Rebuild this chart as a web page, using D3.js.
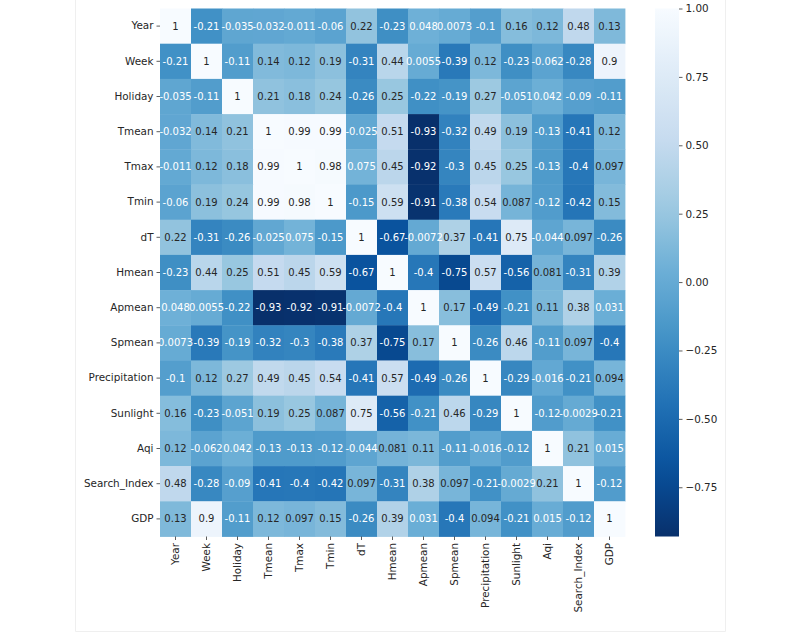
<!DOCTYPE html>
<html>
<head>
<meta charset="utf-8">
<script src="https://cdn.jsdelivr.net/npm/d3@7"></script>
<style>
  html, body { margin: 0; padding: 0; background: #ffffff; }
  svg { display: block; }
  text { font-family: "DejaVu Sans", sans-serif; }
</style>
</head>
<body>
<svg id="chart" width="800" height="633"></svg>
<script>
// ---------- DATA ----------
const categories = ["Year","Week","Holiday","Tmean","Tmax","Tmin","dT","Hmean","Apmean","Spmean","Precipitation","Sunlight","Aqi","Search_Index","GDP"];

const rowYear          = [1, -0.21, -0.035, -0.032, -0.011, -0.06, 0.22, -0.23, 0.048, 0.0073, -0.1, 0.16, 0.12, 0.48, 0.13];
const rowWeek          = [-0.21, 1, -0.11, 0.14, 0.12, 0.19, -0.31, 0.44, 0.0055, -0.39, 0.12, -0.23, -0.062, -0.28, 0.9];
const rowHoliday       = [-0.035, -0.11, 1, 0.21, 0.18, 0.24, -0.26, 0.25, -0.22, -0.19, 0.27, -0.051, 0.042, -0.09, -0.11];
const rowTmean         = [-0.032, 0.14, 0.21, 1, 0.99, 0.99, -0.025, 0.51, -0.93, -0.32, 0.49, 0.19, -0.13, -0.41, 0.12];
const rowTmax          = [-0.011, 0.12, 0.18, 0.99, 1, 0.98, 0.075, 0.45, -0.92, -0.3, 0.45, 0.25, -0.13, -0.4, 0.097];
const rowTmin          = [-0.06, 0.19, 0.24, 0.99, 0.98, 1, -0.15, 0.59, -0.91, -0.38, 0.54, 0.087, -0.12, -0.42, 0.15];
const rowdT            = [0.22, -0.31, -0.26, -0.025, 0.075, -0.15, 1, -0.67, -0.0072, 0.37, -0.41, 0.75, -0.044, 0.097, -0.26];
const rowHmean         = [-0.23, 0.44, 0.25, 0.51, 0.45, 0.59, -0.67, 1, -0.4, -0.75, 0.57, -0.56, 0.081, -0.31, 0.39];
const rowApmean        = [0.048, 0.0055, -0.22, -0.93, -0.92, -0.91, -0.0072, -0.4, 1, 0.17, -0.49, -0.21, 0.11, 0.38, 0.031];
const rowSpmean        = [0.0073, -0.39, -0.19, -0.32, -0.3, -0.38, 0.37, -0.75, 0.17, 1, -0.26, 0.46, -0.11, 0.097, -0.4];
const rowPrecipitation = [-0.1, 0.12, 0.27, 0.49, 0.45, 0.54, -0.41, 0.57, -0.49, -0.26, 1, -0.29, -0.016, -0.21, 0.094];
const rowSunlight      = [0.16, -0.23, -0.051, 0.19, 0.25, 0.087, 0.75, -0.56, -0.21, 0.46, -0.29, 1, -0.12, -0.0029, -0.21];
const rowAqi           = [0.12, -0.062, 0.042, -0.13, -0.13, -0.12, -0.044, 0.081, 0.11, -0.11, -0.016, -0.12, 1, 0.21, 0.015];
const rowSearchIndex   = [0.48, -0.28, -0.09, -0.41, -0.4, -0.42, 0.097, -0.31, 0.38, 0.097, -0.21, -0.0029, 0.21, 1, -0.12];
const rowGDP           = [0.13, 0.9, -0.11, 0.12, 0.097, 0.15, -0.26, 0.39, 0.031, -0.4, 0.094, -0.21, 0.015, -0.12, 1];

const matrix = [rowYear,rowWeek,rowHoliday,rowTmean,rowTmax,rowTmin,rowdT,rowHmean,rowApmean,rowSpmean,rowPrecipitation,rowSunlight,rowAqi,rowSearchIndex,rowGDP];

const colorbarTicks = [1.00, 0.75, 0.50, 0.25, 0.00, -0.25, -0.50, -0.75];

// ---------- LAYOUT ----------
const svg = d3.select("#chart");
const gLeft = 160, gTop = 8.5, gRight = 625, gBottom = 536.5;
const cbLeft = 655, cbWidth = 24;

// faint frame of the original screenshot
const frame = svg.append("g").attr("stroke", "#efefef").attr("stroke-width", 1).attr("fill", "none");
frame.append("line").attr("x1", 75.5).attr("x2", 75.5).attr("y1", 0).attr("y2", 631.5);
frame.append("line").attr("x1", 725.5).attr("x2", 725.5).attr("y1", 0).attr("y2", 631.5);
frame.append("line").attr("x1", 75.5).attr("x2", 725.5).attr("y1", 631.5).attr("y2", 631.5);

const x = d3.scaleBand().domain(categories).range([gLeft, gRight]);
const y = d3.scaleBand().domain(categories).range([gTop, gBottom]);

const all = matrix.flat();
const vmin = d3.min(all), vmax = d3.max(all);

// matplotlib "Blues_r" (linear segments through the ColorBrewer Blues colors)
const bluesStops = ["#f7fbff","#deebf7","#c6dbef","#9ecae1","#6baed6","#4292c6","#2171b5","#08519c","#08306b"];
const norm = d3.scaleLinear().domain([vmin, vmax]).range([1, 0]).clamp(true);
const blues = d3.scaleLinear().domain(d3.range(9).map(i => i / 8)).range(bluesStops).interpolate(d3.interpolateRgb);
const color = v => blues(norm(v));

function luminance(c) {
  const rgb = d3.rgb(c);
  const lin = u => { u /= 255; return u <= 0.03928 ? u / 12.92 : Math.pow((u + 0.055) / 1.055, 2.4); };
  return 0.2126 * lin(rgb.r) + 0.7152 * lin(rgb.g) + 0.0722 * lin(rgb.b);
}
// light/dark annotation switch point, as seen in the reference (between 0.075 and 0.081)
const lumThreshold = luminance(color(0.078));

function fmt(v) {
  if (v === 1) return "1";
  return d3.format(".2~g")(v).replace("−", "-");
}

const cells = [];
matrix.forEach((row, i) => row.forEach((v, j) => cells.push({ r: categories[i], c: categories[j], v })));

const g = svg.append("g");
g.selectAll("rect.cell").data(cells).join("rect")
  .attr("class", "cell")
  .attr("x", d => x(d.c))
  .attr("y", d => y(d.r))
  .attr("width", x.bandwidth() + 0.4)
  .attr("height", y.bandwidth() + 0.4)
  .attr("fill", d => color(d.v));

g.selectAll("text.annot").data(cells).join("text")
  .attr("class", "annot")
  .attr("x", d => x(d.c) + x.bandwidth() / 2)
  .attr("y", d => y(d.r) + y.bandwidth() / 2)
  .attr("text-anchor", "middle")
  .attr("dominant-baseline", "central")
  .attr("font-size", "10px")
  .attr("fill", d => luminance(color(d.v)) > lumThreshold ? "#262626" : "#ffffff")
  .text(d => fmt(d.v));

// ---------- AXES ----------
const yAxis = d3.axisLeft(y).tickSize(3.5).tickPadding(3);
const yG = svg.append("g").attr("transform", `translate(${gLeft},0)`).call(yAxis);
yG.select(".domain").remove();
yG.selectAll(".tick line").attr("stroke", "#333").attr("stroke-width", 0.8);
yG.selectAll(".tick text").attr("font-size", "10.4px").attr("fill", "#262626")
  .attr("font-family", "DejaVu Sans, sans-serif");

const xAxis = d3.axisBottom(x).tickSize(3.5).tickPadding(3);
const xG = svg.append("g").attr("transform", `translate(0,${gBottom})`).call(xAxis);
xG.select(".domain").remove();
xG.selectAll(".tick line").attr("stroke", "#333").attr("stroke-width", 0.8);
xG.selectAll(".tick text")
  .attr("font-size", "10.4px").attr("fill", "#262626")
  .attr("font-family", "DejaVu Sans, sans-serif")
  .attr("transform", "rotate(-90)")
  .attr("text-anchor", "end")
  .attr("dy", "0.35em")
  .attr("x", -6.5)
  .attr("y", 0);

// ---------- COLORBAR ----------
const cbScale = d3.scaleLinear().domain([vmin, vmax]).range([gBottom, gTop]);
const defs = svg.append("defs");
const grad = defs.append("linearGradient").attr("id", "cbgrad")
  .attr("x1", 0).attr("x2", 0).attr("y1", 1).attr("y2", 0);
d3.range(0, 1.0001, 0.05).forEach(t => {
  grad.append("stop").attr("offset", t).attr("stop-color", color(vmin + t * (vmax - vmin)));
});
svg.append("rect")
  .attr("x", cbLeft).attr("y", gTop)
  .attr("width", cbWidth).attr("height", gBottom - gTop)
  .attr("fill", "url(#cbgrad)");

const cbAxis = d3.axisRight(cbScale).tickValues(colorbarTicks).tickSize(3.5).tickPadding(3)
  .tickFormat(d => d3.format(".2f")(d).replace("-", "−"));
const cbG = svg.append("g").attr("transform", `translate(${cbLeft + cbWidth},0)`).call(cbAxis);
cbG.select(".domain").remove();
cbG.selectAll(".tick line").attr("stroke", "#333").attr("stroke-width", 0.8);
cbG.selectAll(".tick text").attr("font-size", "10.4px").attr("fill", "#262626")
  .attr("font-family", "DejaVu Sans, sans-serif");
</script>
</body>
</html>
